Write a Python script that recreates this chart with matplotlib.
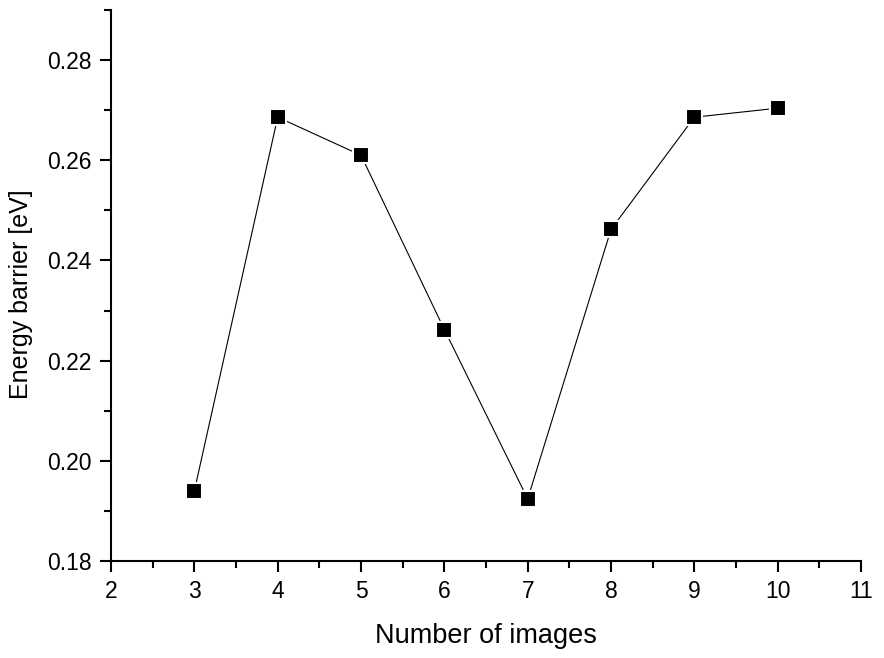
import matplotlib
matplotlib.use('Agg')
import matplotlib.pyplot as plt
from matplotlib.ticker import MultipleLocator

images = [3, 4, 5, 6, 7, 8, 9, 10]
barrier = [0.1940, 0.2686, 0.2610, 0.2262, 0.1924, 0.2462, 0.2686, 0.2704]

plt.rcParams['font.family'] = ['Liberation Sans', 'DejaVu Sans']

fig = plt.figure(figsize=(8.84, 6.58), dpi=100)
ax = fig.add_axes([0.1256, 0.1474, 0.8484, 0.8374])

ax.plot(images, barrier, color='black', linewidth=0.8, marker='s', markersize=11,
        markerfacecolor='black', markeredgecolor='white', markeredgewidth=1.5)

ax.set_xlim(2, 11)
ax.set_ylim(0.18, 0.29)
ax.xaxis.set_major_locator(MultipleLocator(1))
ax.xaxis.set_minor_locator(MultipleLocator(0.5))
ax.yaxis.set_major_locator(MultipleLocator(0.02))
ax.yaxis.set_minor_locator(MultipleLocator(0.01))
ax.yaxis.set_major_formatter(matplotlib.ticker.FormatStrFormatter('%.2f'))

for side in ['top', 'right']:
    ax.spines[side].set_visible(False)
for side in ['left', 'bottom']:
    ax.spines[side].set_linewidth(1.5)

ax.tick_params(axis='both', which='major', direction='out', length=8, width=1.5,
               labelsize=16.5, pad=6)
ax.tick_params(axis='both', which='minor', direction='out', length=5, width=1.5)

ax.set_xlabel('Number of images', fontsize=19.5, labelpad=14)
ax.set_ylabel('Energy barrier [eV]', fontsize=18)
ax.yaxis.set_label_coords(-0.12, 0.485)
ax.yaxis.label.set_va('center')

fig.savefig('out.png', dpi=100)
